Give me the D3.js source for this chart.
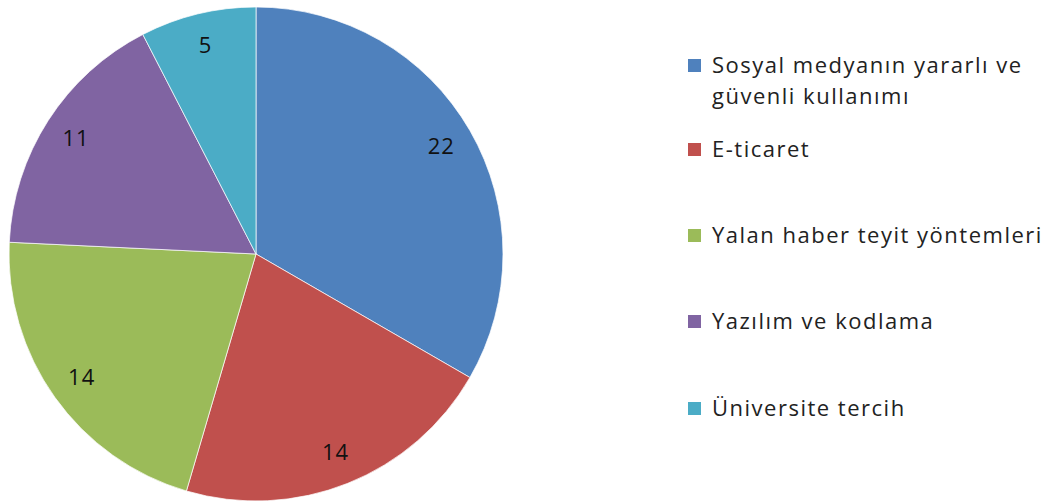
<!DOCTYPE html>
<html>
<head>
<meta charset="utf-8">
<script src="https://cdn.jsdelivr.net/npm/d3@7"></script>
<style>
  html, body { margin: 0; padding: 0; background: #fff; }
  svg { display: block; font-family: "Open Sans", sans-serif; }
</style>
</head>
<body>
<svg id="chart" width="1056" height="502"></svg>
<script>
const categories = ['Sosyal medyanın yararlı ve güvenli kullanımı', 'E-ticaret', 'Yalan haber teyit yöntemleri', 'Yazılım ve kodlama', 'Üniversite tercih'];
const legendLines = [['Sosyal medyanın yararlı ve', 'güvenli kullanımı'], ['E-ticaret'], ['Yalan haber teyit yöntemleri'], ['Yazılım ve kodlama'], ['Üniversite tercih']];
const values = [22, 14, 14, 11, 5];
const colors = ['#4F81BD', '#C0504D', '#9BBB59', '#8064A2', '#4BACC6'];

const svg = d3.select('#chart');
const cx = 256, cy = 254, radius = 247;

const color = d3.scaleOrdinal().domain(categories).range(colors);
const pie = d3.pie().sort(null).value(d => d.value);
const data = categories.map((c, i) => ({ name: c, value: values[i] }));
const arc = d3.arc().innerRadius(0).outerRadius(radius);
const labelArc = d3.arc().innerRadius(214).outerRadius(214);

const g = svg.append('g').attr('transform', `translate(${cx},${cy})`);
const slices = g.selectAll('g.slice').data(pie(data)).enter().append('g').attr('class', 'slice');
slices.append('path')
  .attr('d', arc)
  .attr('fill', d => color(d.data.name))
  .attr('stroke', '#fff')
  .attr('stroke-width', 0.7);
slices.append('text')
  .attr('transform', d => `translate(${labelArc.centroid(d)})`)
  .attr('text-anchor', 'middle')
  .attr('dy', '0.33em')
  .attr('font-size', 22)
  .attr('letter-spacing', 1)
  .attr('fill', '#111')
  .text(d => d.data.value);

// legend (baselines)
const legendY = [73, 157, 243, 329, 416];
const legend = svg.append('g');
categories.forEach((c, i) => {
  const item = legend.append('g').attr('transform', `translate(688,${legendY[i]})`);
  item.append('rect').attr('x', 0).attr('y', -14).attr('width', 13).attr('height', 13).attr('fill', color(c));
  item.append('text')
    .attr('x', 24).attr('y', 0)
    .attr('font-size', 22).attr('letter-spacing', 1.5).attr('fill', '#222')
    .selectAll('tspan').data(legendLines[i]).enter().append('tspan')
    .attr('x', 24).attr('dy', (d, j) => j === 0 ? 0 : 31)
    .text(d => d);
});
</script>
</body>
</html>
